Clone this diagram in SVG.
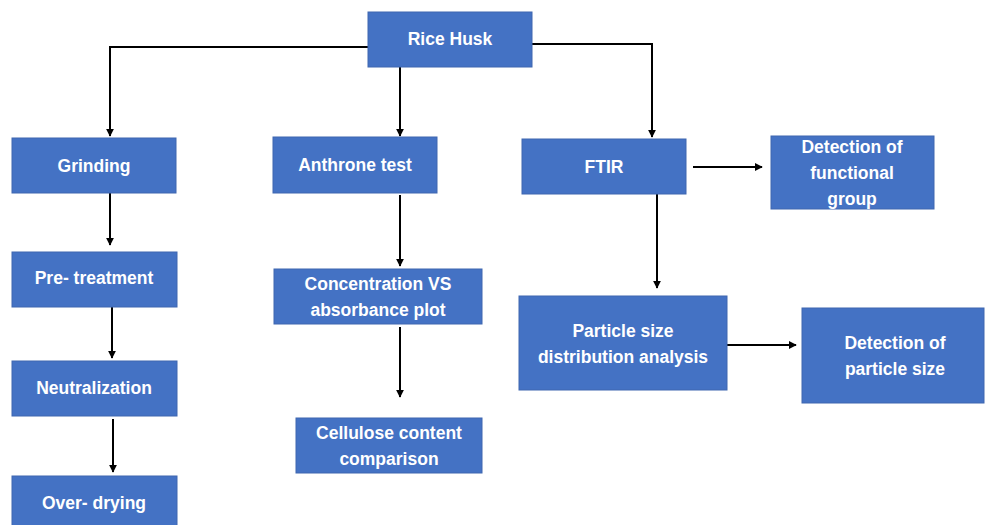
<svg xmlns="http://www.w3.org/2000/svg" width="985" height="525" viewBox="0 0 985 525">
<style>
.box{fill:#4472C4;stroke:#3f67b0;stroke-width:1}
.t{font-family:"Liberation Sans",Arial,sans-serif;font-weight:bold;font-size:17.5px;fill:#ffffff;text-anchor:middle;dominant-baseline:central}
.c{fill:none;stroke:#000;stroke-width:2;marker-end:url(#ah)}
</style>
<defs>
<marker id="ah" viewBox="0 0 10 10" refX="9" refY="5" markerWidth="4" markerHeight="4" orient="auto" markerUnits="strokeWidth">
<path d="M0,0 L10,5 L0,10 z" fill="#000"/>
</marker>
</defs>
<rect width="985" height="525" fill="#ffffff"/>
<g id="connectors">
<path class="c" d="M368,47 H110 V136"/>
<path class="c" d="M400,67 V136"/>
<path class="c" d="M532,44 H652 V137"/>
<path class="c" d="M693,167 H762"/>
<path class="c" d="M657,194 V288"/>
<path class="c" d="M727,345 H796"/>
<path class="c" d="M110,193 V245"/>
<path class="c" d="M112,307 V358"/>
<path class="c" d="M113,419 V472"/>
<path class="c" d="M400,195 V266"/>
<path class="c" d="M400,327 V397"/>
</g>
<g id="rice-husk"><rect class="box" x="368" y="12" width="164" height="55"/><text class="t" x="450" y="39">Rice Husk</text></g>
<g id="grinding"><rect class="box" x="12" y="138" width="164" height="55"/><text class="t" x="94" y="166">Grinding</text></g>
<g id="anthrone"><rect class="box" x="273" y="137" width="164" height="56"/><text class="t" x="355" y="165">Anthrone test</text></g>
<g id="ftir"><rect class="box" x="522" y="139" width="164" height="55"/><text class="t" x="604" y="167">FTIR</text></g>
<g id="detection-functional"><rect class="box" x="771" y="136" width="163" height="73"/><text class="t" x="852" y="147">Detection of</text><text class="t" x="852" y="173">functional</text><text class="t" x="852" y="199">group</text></g>
<g id="pre-treatment"><rect class="box" x="12" y="252" width="165" height="55"/><text class="t" x="94" y="278">Pre- treatment</text></g>
<g id="neutralization"><rect class="box" x="12" y="361" width="165" height="55"/><text class="t" x="94" y="388">Neutralization</text></g>
<g id="over-drying"><rect class="box" x="12" y="476" width="165" height="55"/><text class="t" x="94" y="503">Over- drying</text></g>
<g id="concentration"><rect class="box" x="274" y="269" width="208" height="55"/><text class="t" x="378" y="284">Concentration VS</text><text class="t" x="378" y="310">absorbance plot</text></g>
<g id="cellulose"><rect class="box" x="296" y="418" width="186" height="55"/><text class="t" x="389" y="433">Cellulose content</text><text class="t" x="389" y="459">comparison</text></g>
<g id="particle-analysis"><rect class="box" x="519" y="296" width="208" height="94"/><text class="t" x="623" y="331">Particle size</text><text class="t" x="623" y="357">distribution analysis</text></g>
<g id="detection-particle"><rect class="box" x="802" y="308" width="182" height="95"/><text class="t" x="895" y="343">Detection of</text><text class="t" x="895" y="369">particle size</text></g>
</svg>
